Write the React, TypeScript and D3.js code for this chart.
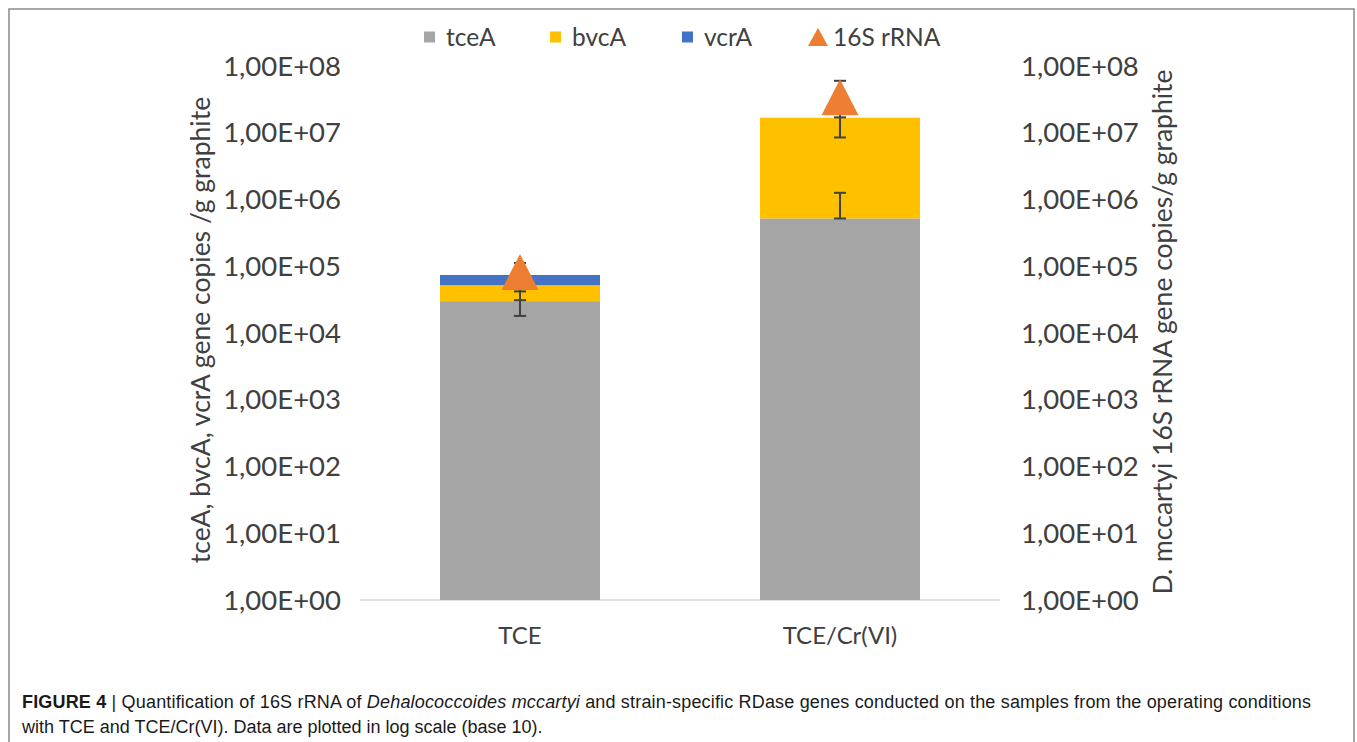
import React from 'react'
import * as d3 from 'd3'

const categories = ['TCE', 'TCE/Cr(VI)']
const tceA = [3.0e4, 5.2e5]
const bvcA = [2.2e4, 1.63e7]
const vcrA = [2.2e4, 0]
const rRNA16S = [8.2e4, 3.4e7]
// error bar ends (absolute values, stacked top)
const tceALow = [1.8e4, 5.2e5]
const tceAHigh = [4.2e4, 1.26e6]
const bvcALow = [3.1e4, 8.5e6]
const bvcAHigh = [7.4e4, 2.5e7]
const rRNALow = [5.2e4, 1.7e7]
const rRNAHigh = [1.12e5, 6.0e7]
const tickValues = [1, 1e1, 1e2, 1e3, 1e4, 1e5, 1e6, 1e7, 1e8]

const colors = {tceA: '#A5A5A5', bvcA: '#FFC000', vcrA: '#4472C4', rRNA: '#ED7D31'}
const font = 'Lato, "Open Sans", sans-serif'
const textColor = '#404040'

const fmt = (v: number) => {
  const e = Math.round(Math.log10(v))
  return `1,00E+${e < 10 ? '0' + e : e}`
}

// isosceles triangle marker centred on the point
const triPath = (w: number, h: number) => `M0,${-h / 2}L${w / 2},${h / 2}L${-w / 2},${h / 2}Z`

const ErrorBar = ({x, y0, y1}: {x: number; y0: number; y1: number}) => (
  <g stroke="#404040" strokeWidth={2}>
    <line x1={x} x2={x} y1={y0} y2={y1} />
    <line x1={x - 6} x2={x + 6} y1={y0} y2={y0} />
    <line x1={x - 6} x2={x + 6} y1={y1} y2={y1} />
  </g>
)

const App = () => {
  const width = 1357
  const height = 742
  const y = d3.scaleLog().domain([1, 1e8]).range([600, 66])
  const x = d3
    .scaleBand()
    .domain(categories)
    .range([360, 1000])
    .paddingInner(0.5)
    .paddingOuter(0.25)
  const bw = x.bandwidth()

  const stackData = categories.map((c, i) => ({cat: c, tceA: tceA[i], bvcA: bvcA[i], vcrA: vcrA[i]}))
  const stack = d3.stack<any>().keys(['tceA', 'bvcA', 'vcrA'])(stackData)
  const yb = (v: number) => y(Math.max(v, 1))

  const legend = [
    {label: 'tceA', color: colors.tceA, x: 424, tx: 446, shape: 'rect'},
    {label: 'bvcA', color: colors.bvcA, x: 550, tx: 572, shape: 'rect'},
    {label: 'vcrA', color: colors.vcrA, x: 682, tx: 704, shape: 'rect'},
    {label: '16S rRNA', color: colors.rRNA, x: 808, tx: 833, shape: 'tri'},
  ]

  return (
    <svg width={width} height={height} style={{position: 'absolute', left: 0, top: 0}}>
      <rect x={0} y={0} width={width} height={height} fill="#fff" />
      <rect x={9} y={9} width={1345} height={760} fill="none" stroke="#8a8a8a" strokeWidth={1.5} />

      {/* baseline */}
      <line x1={360} x2={1000} y1={600} y2={600} stroke="#d9d9d9" strokeWidth={1.5} />

      {/* stacked bars */}
      {stack.map(layer => (
        <g key={layer.key} fill={(colors as any)[layer.key]}>
          {layer.map((d, i) =>
            d[1] - d[0] > 0 ? (
              <rect
                key={i}
                x={x(categories[i])!}
                width={bw}
                y={yb(d[1])}
                height={yb(d[0]) - yb(d[1])}
              />
            ) : null
          )}
        </g>
      ))}

      {/* error bars */}
      {categories.map((c, i) => {
        const cx = x(c)! + bw / 2
        return (
          <g key={c}>
            <ErrorBar x={cx} y0={y(tceALow[i])} y1={y(tceAHigh[i])} />
            <ErrorBar x={cx} y0={y(bvcALow[i])} y1={y(bvcAHigh[i])} />
            <ErrorBar x={cx} y0={y(rRNALow[i])} y1={y(rRNAHigh[i])} />
          </g>
        )
      })}

      {/* 16S rRNA markers */}
      {categories.map((c, i) => (
        <path
          key={c}
          d={triPath(37, 36)}
          transform={`translate(${x(c)! + bw / 2},${y(rRNA16S[i])})`}
          fill={colors.rRNA}
        />
      ))}

      {/* left ticks */}
      {tickValues.map(t => (
        <text key={'l' + t} x={341} y={y(t)} dy="0.35em" textAnchor="end" fontFamily={font} fontSize={27.5} fill={textColor}>
          {fmt(t)}
        </text>
      ))}
      {/* right ticks */}
      {tickValues.map(t => (
        <text key={'r' + t} x={1021} y={y(t)} dy="0.35em" textAnchor="start" fontFamily={font} fontSize={27.5} fill={textColor}>
          {fmt(t)}
        </text>
      ))}

      {/* category labels */}
      {categories.map(c => (
        <text key={c} x={x(c)! + bw / 2} y={636} dy="0.35em" textAnchor="middle" fontFamily={font} fontSize={24} fill={textColor}>
          {c}
        </text>
      ))}

      {/* axis titles */}
      <text transform="translate(201,330) rotate(-90)" textAnchor="middle" dy="0.35em" fontFamily={font} fontSize={26.5} fill={textColor}>
        tceA, bvcA, vcrA gene copies /g graphite
      </text>
      <text transform="translate(1163,332) rotate(-90)" textAnchor="middle" dy="0.35em" fontFamily={font} fontSize={26.5} fill={textColor}>
        D. mccartyi 16S rRNA gene copies/g graphite
      </text>

      {/* legend */}
      {legend.map(l => (
        <g key={l.label} transform="translate(0,37)">
          {l.shape === 'rect' ? (
            <rect x={l.x} y={-5.5} width={11} height={11} fill={l.color} />
          ) : (
            <path d={triPath(20, 18)} transform={`translate(${l.x + 10},0)`} fill={l.color} />
          )}
          <text x={l.tx} y={0} dy="0.35em" fontFamily={font} fontSize={24.5} fill={textColor}>
            {l.label}
          </text>
        </g>
      ))}

      {/* caption */}
      <text x={22} y={708} fontFamily='"Liberation Sans", Arial, sans-serif' fontSize={18} fill="#1a1a1a" textLength={1289} lengthAdjust="spacing">
        <tspan fontWeight="bold">FIGURE 4</tspan>
        <tspan> | Quantification of 16S rRNA of </tspan>
        <tspan fontStyle="italic">Dehalococcoides mccartyi</tspan>
        <tspan> and strain-specific RDase genes conducted on the samples from the operating conditions</tspan>
      </text>
      <text x={22} y={733} fontFamily='"Liberation Sans", Arial, sans-serif' fontSize={18} fill="#1a1a1a">
        with TCE and TCE/Cr(VI). Data are plotted in log scale (base 10).
      </text>
    </svg>
  )
}

export default App
